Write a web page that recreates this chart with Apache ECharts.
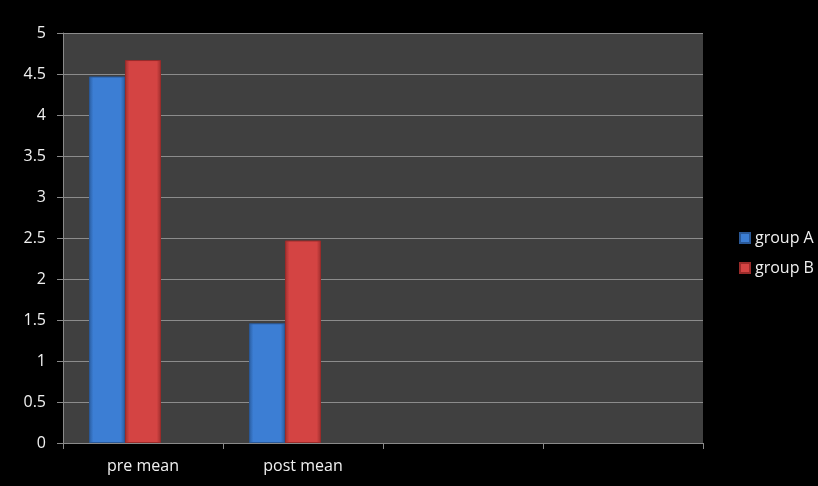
<!DOCTYPE html>
<html>
<head>
<meta charset="utf-8">
<script src="https://cdn.jsdelivr.net/npm/echarts@6/dist/echarts.min.js"></script>
<style>
  html, body { margin: 0; padding: 0; background: #000; }
  #chart { width: 818px; height: 486px; }
</style>
</head>
<body>
<div id="chart"></div>
<script>
const categories = ['pre mean', 'post mean', '', '']
const groupA = [4.47, 1.46, null, null]
const groupB = [4.67, 2.47, null, null]
const yTicks = [0, 0.5, 1, 1.5, 2, 2.5, 3, 3.5, 4, 4.5, 5]

const chart = echarts.init(document.getElementById('chart'))

function grad(edge, mid) {
  return new echarts.graphic.LinearGradient(0, 0, 1, 0, [
    { offset: 0, color: edge },
    { offset: 0.12, color: mid },
    { offset: 0.88, color: mid },
    { offset: 1, color: edge },
  ])
}

const font = '"Open Sans", "Noto Sans", sans-serif'

chart.setOption({
  backgroundColor: '#000',
  animation: false,
  grid: {
    left: 63, right: 115, top: 33, bottom: 43,
    show: true, backgroundColor: '#404040', borderWidth: 0,
  },
  legend: {
    data: ['group A', 'group B'],
    orient: 'vertical',
    left: 734,
    top: 225,
    itemGap: 14,
    itemWidth: 10,
    itemHeight: 10,
    icon: 'rect',
    textStyle: { color: '#f0f0f0', fontSize: 16, fontFamily: font },
  },
  xAxis: {
    type: 'category',
    data: categories,
    boundaryGap: true,
    axisLine: { lineStyle: { color: '#8a8a8a', width: 1 } },
    axisTick: { show: true, length: 6, inside: false, lineStyle: { color: '#8a8a8a' } },
    axisLabel: { color: '#f0f0f0', fontSize: 16, fontFamily: font, margin: 15 },
  },
  yAxis: {
    type: 'value',
    min: yTicks[0],
    max: yTicks[yTicks.length - 1],
    interval: 0.5,
    axisLine: { show: true, lineStyle: { color: '#8a8a8a' } },
    axisTick: { show: true, length: 6, lineStyle: { color: '#8a8a8a' } },
    axisLabel: { color: '#f0f0f0', fontSize: 16, fontFamily: font, margin: 17 },
    splitLine: { lineStyle: { color: '#8c8c8c', width: 1 } },
  },
  series: [
    {
      name: 'group A', type: 'bar', data: groupA, barWidth: 36, barGap: '0%',
      itemStyle: { color: grad('#2a5c9e', '#3c7ed4'), borderColor: '#2a5896', borderWidth: 1 },
    },
    {
      name: 'group B', type: 'bar', data: groupB, barWidth: 36,
      itemStyle: { color: grad('#9e2e2d', '#d44443'), borderColor: '#9a2b2a', borderWidth: 1 },
    },
    // empty third slot, shifts the pair left like the original
    { name: 'spacer', type: 'bar', data: [], barWidth: 36, silent: true },
  ],
})

window.addEventListener('resize', () => chart.resize())
</script>
</body>
</html>
